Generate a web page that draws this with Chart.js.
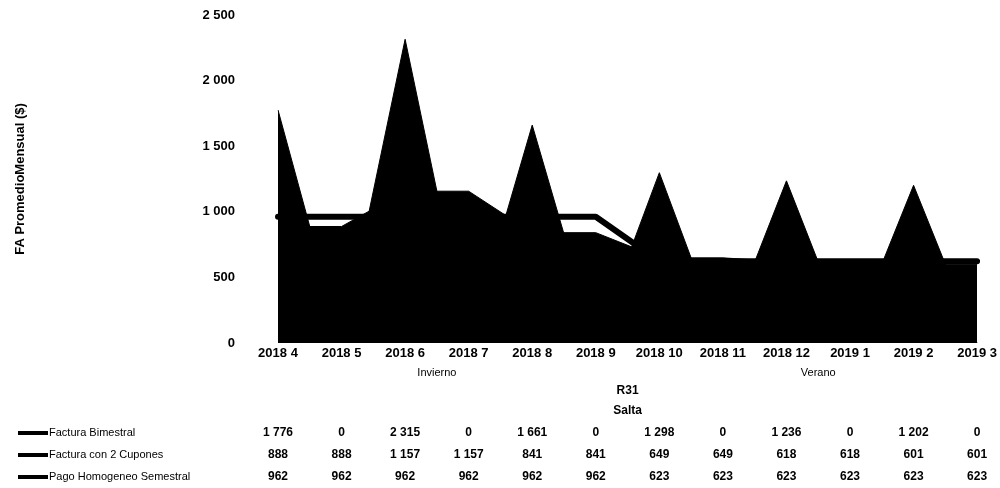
<!DOCTYPE html>
<html>
<head>
<meta charset="utf-8">
<script src="https://cdn.jsdelivr.net/npm/chart.js"></script>
<style>
  body { margin: 0; background: #fff; }
  #wrap { position: relative; width: 1000px; height: 488px; }
</style>
</head>
<body>
<div id="wrap"><canvas id="faChart"></canvas></div>
<script>
// data
const months = ['2018 4', '2018 5', '2018 6', '2018 7', '2018 8', '2018 9',
                '2018 10', '2018 11', '2018 12', '2019 1', '2019 2', '2019 3'];
const seasons = [{ label: 'Invierno', from: 0, to: 5 }, { label: 'Verano', from: 6, to: 11 }];
const region = 'R31';
const province = 'Salta';

const facturaBimestral = [1776, 0, 2315, 0, 1661, 0, 1298, 0, 1236, 0, 1202, 0];
const facturaCupones = [888, 888, 1157, 1157, 841, 841, 649, 649, 618, 618, 601, 601];
const pagoHomogeneo = [962, 962, 962, 962, 962, 962, 623, 623, 623, 623, 623, 623];

const seriesNames = ['Factura Bimestral', 'Factura con 2 Cupones', 'Pago Homogeneo Semestral'];
const yTicks = [0, 500, 1000, 1500, 2000, 2500];

function fmt(v) {
    return String(v).replace(/\B(?=(\d{3})+(?!\d))/g, ' ');
}

Chart.defaults.font.family = '"Liberation Sans", Arial, sans-serif';
Chart.defaults.color = '#000';

// group labels + data table under the axis
const tablePlugin = {
    id: 'dataTable',
    afterDraw(chart) {
        const c = chart.ctx;
        const x = chart.scales.x;
        const area = chart.chartArea;
        c.save();
        c.fillStyle = '#000';
        c.textAlign = 'center';
        c.textBaseline = 'middle';

        c.font = '11px "Liberation Sans", Arial, sans-serif';
        seasons.forEach(function (s) {
            const cx = (x.getPixelForValue(s.from) + x.getPixelForValue(s.to)) / 2;
            c.fillText(s.label, cx, 373);
        });

        const mid = (area.left + area.right) / 2;
        c.font = 'bold 12px "Liberation Sans", Arial, sans-serif';
        c.fillText(region, mid, 391);
        c.fillText(province, mid, 411);

        const rows = [facturaBimestral, facturaCupones, pagoHomogeneo];
        const rowY = [433, 455, 477];
        rows.forEach(function (row, r) {
            c.font = 'bold 12px "Liberation Sans", Arial, sans-serif';
            c.textAlign = 'center';
            row.forEach(function (v, i) {
                c.fillText(fmt(v), x.getPixelForValue(i), rowY[r]);
            });
            // legend key + row header
            c.fillRect(18, rowY[r] - 2, 30, 4);
            c.textAlign = 'left';
            c.font = '11px "Liberation Sans", Arial, sans-serif';
            c.fillText(seriesNames[r], 49, rowY[r]);
        });
        c.restore();
    }
};

new Chart(document.getElementById('faChart'), {
    type: 'line',
    data: {
        labels: months,
        datasets: [
            {
                label: seriesNames[0],
                data: facturaBimestral,
                borderColor: '#000',
                backgroundColor: '#000',
                borderWidth: 1,
                pointRadius: 0,
                tension: 0,
                fill: 'origin'
            },
            {
                label: seriesNames[1],
                data: facturaCupones,
                borderColor: '#000',
                backgroundColor: '#000',
                borderWidth: 1,
                pointRadius: 0,
                tension: 0,
                fill: 'origin'
            },
            {
                label: seriesNames[2],
                data: pagoHomogeneo,
                borderColor: '#000',
                borderWidth: 6,
                borderCapStyle: 'round',
                borderJoinStyle: 'round',
                pointRadius: 0,
                tension: 0,
                fill: false
            }
        ]
    },
    options: {
        responsive: true,
        maintainAspectRatio: false,
        animation: false,
        layout: { padding: { left: 13, right: 22, top: 15, bottom: 0 } },
        plugins: {
            legend: { display: false },
            tooltip: { enabled: false }
        },
        scales: {
            x: {
                offset: false,
                grid: { display: false, drawTicks: false },
                border: { display: false },
                ticks: {
                    autoSkip: false,
                    maxRotation: 0,
                    padding: 3,
                    font: { size: 13, weight: 'bold' }
                },
                afterFit: function (s) { s.height = 145; }
            },
            y: {
                min: 0,
                max: 2500,
                grid: { display: false, drawTicks: false },
                border: { display: false },
                afterBuildTicks: function (s) {
                    s.ticks = yTicks.map(function (v) { return { value: v }; });
                },
                ticks: {
                    padding: 43,
                    font: { size: 13, weight: 'bold' },
                    callback: function (v) { return fmt(v); }
                },
                title: {
                    display: true,
                    text: 'FA PromedioMensual ($)',
                    padding: 0,
                    font: { size: 13, weight: 'bold' }
                },
                // the big label gap would otherwise be added above and below the plot
                afterFit: function (s) {
                    s.width = 265;
                    s.paddingTop = 0;
                    s.paddingBottom = 0;
                }
            }
        }
    },
    plugins: [tablePlugin]
});
</script>
</body>
</html>
